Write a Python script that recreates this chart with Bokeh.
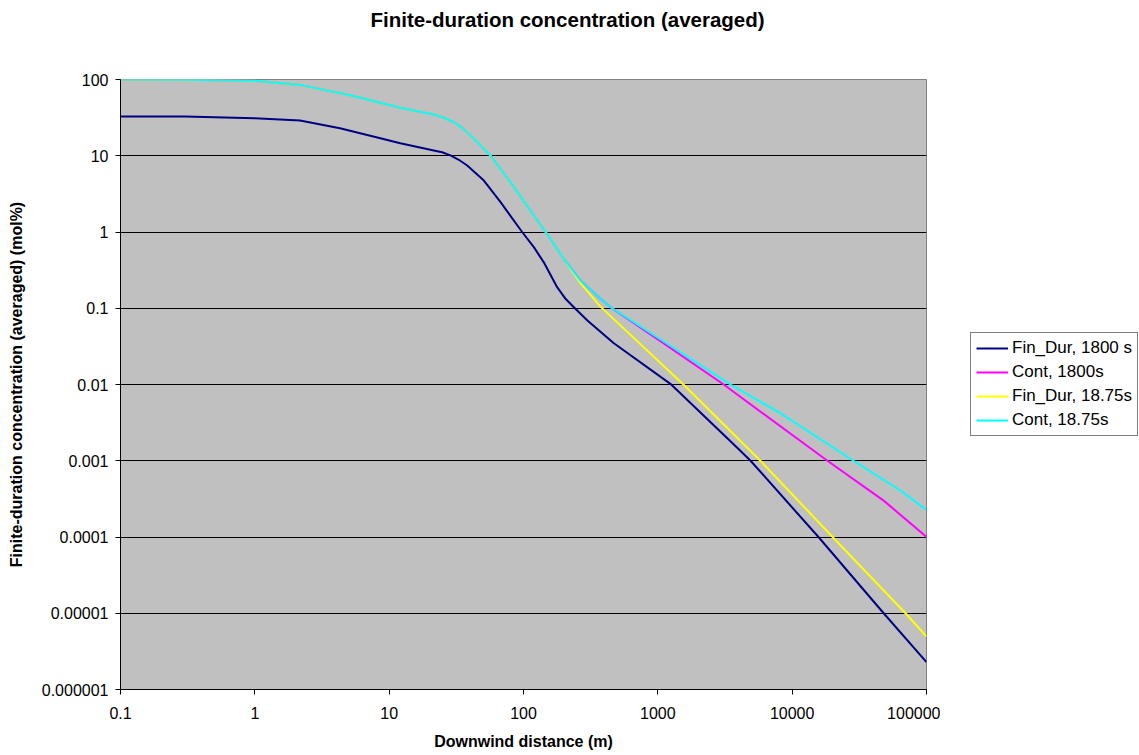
from bokeh.plotting import figure
from bokeh.layouts import row
from bokeh.models import FixedTicker, CustomJSTickFormatter, Legend, LegendItem, Title
from bokeh.embed import file_html
from bokeh.resources import INLINE

# ---------------- data ----------------
x_ticks = [0.1, 1, 10, 100, 1000, 10000, 100000]
x_tick_labels = ["0.1", "1", "10", "100", "1000", "10000", "100000"]
y_ticks = [1e-6, 1e-5, 1e-4, 1e-3, 1e-2, 1e-1, 1, 10, 100]
y_tick_labels = ["0.000001", "0.00001", "0.0001", "0.001", "0.01", "0.1", "1", "10", "100"]

# Fin_Dur, 1800 s
fin1800_x = [0.1, 0.3, 1, 2.17, 4.3, 8.6, 12.1, 21.5, 24.8, 28.6, 33, 38.1, 50.7, 67.5, 97.7, 119.4,
             141.6, 178, 205.6, 237, 299, 468, 1240, 3900, 4900, 15700, 48000, 100000]
fin1800_y = [32.7, 32.6, 31, 29, 23, 17, 14.6, 11.7, 11.1, 10.1, 8.85, 7.45, 4.73, 2.46, 1.0, 0.633,
             0.40, 0.189, 0.133, 0.103, 0.069, 0.035, 0.0102, 0.00148, 0.001, 1e-4, 1e-5, 2.28e-6]

# Cont, 1800s
cont1800_x = [0.1, 0.3, 1, 2.17, 5.15, 12.1, 21.5, 25.5, 30.3, 35, 40.3, 56.9, 80, 146, 199.5, 265, 374,
              445, 1000, 3090, 18300, 48000, 100000]
cont1800_y = [100, 99.5, 96, 85, 62, 42.5, 34.8, 31.5, 27.5, 23.2, 18.5, 10, 4.5, 1.0, 0.445, 0.231, 0.133,
              0.103, 0.039, 0.01, 0.001, 3.0e-4, 1e-4]

# Fin_Dur, 18.75s
fin1875_x = [0.1, 0.3, 1, 2.17, 5.15, 12.1, 21.5, 25.5, 30.3, 35, 40.3, 56.9, 80, 146, 199.5, 265, 374,
             1550, 5800, 20000, 69800, 100000]
fin1875_y = [100, 99.5, 96, 85, 62, 42.5, 34.8, 31.5, 27.5, 23.2, 18.5, 10, 4.5, 1.0, 0.445, 0.215, 0.105,
             0.01, 0.001, 1e-4, 1e-5, 4.96e-6]

# Cont, 18.75s
cont1875_x = [0.1, 0.3, 1, 2.17, 5.15, 12.1, 21.5, 25.5, 30.3, 35, 40.3, 56.9, 80, 146, 199.5, 265, 374,
              445, 1000, 3470, 8180, 28600, 64000, 100000]
cont1875_y = [100, 99.5, 96, 85, 62, 42.5, 34.8, 31.5, 27.5, 23.2, 18.5, 10, 4.5, 1.0, 0.445, 0.231, 0.133,
              0.103, 0.041, 0.01, 0.0042, 0.001, 4.07e-4, 2.27e-4]

series_names = ["Fin_Dur, 1800 s", "Cont, 1800s", "Fin_Dur, 18.75s", "Cont, 18.75s"]
series_colors = ["#000080", "#FF00FF", "#FFFF00", "#00FFFF"]
chart_title = "Finite-duration concentration (averaged)"

FONT = "Liberation Sans"

p = figure(width=940, height=755, x_axis_type="log", y_axis_type="log",
           x_range=(0.1, 100000), y_range=(1e-6, 100),
           output_backend="svg", toolbar_location=None,
           min_border_left=120, min_border_right=14, min_border_top=79, min_border_bottom=66,
           background_fill_color="#C0C0C0", border_fill_color="white",
           outline_line_color="#808080", outline_line_width=1)

# grids
p.xgrid.grid_line_color = None
p.ygrid.grid_line_color = "black"
p.ygrid.grid_line_width = 1
p.ygrid.ticker = FixedTicker(ticks=y_ticks)


def fmt(vals, labs):
    return CustomJSTickFormatter(args=dict(vals=vals, labs=labs), code="""
        let best = 0, d = 1e9;
        for (let i = 0; i < vals.length; i++) {
            const e = Math.abs(Math.log10(vals[i]) - Math.log10(tick));
            if (e < d) { d = e; best = i; }
        }
        return labs[best];
    """)


for ax, ticks, labs in ((p.xaxis[0], x_ticks, x_tick_labels), (p.yaxis[0], y_ticks, y_tick_labels)):
    ax.ticker = FixedTicker(ticks=ticks)
    ax.formatter = fmt(ticks, labs)
    ax.minor_tick_line_color = None
    ax.major_tick_in = 0
    ax.major_tick_out = 5
    ax.major_tick_line_color = "black"
    ax.axis_line_color = "black"
    ax.major_label_text_font = FONT
    ax.major_label_text_font_size = "16px"
    ax.major_label_text_color = "black"
    ax.axis_label_text_font = FONT
    ax.axis_label_text_font_size = "16px"
    ax.axis_label_text_font_style = "bold"
    ax.axis_label_text_color = "black"

p.xaxis.axis_label = "Downwind distance (m)"
p.yaxis.axis_label = "Finite-duration concentration (averaged) (mol%)"
p.xaxis.major_label_standoff = 12
p.xaxis.axis_label_standoff = 11
p.yaxis.major_label_standoff = 7
p.yaxis.axis_label_standoff = 14

series = [(fin1800_x, fin1800_y), (cont1800_x, cont1800_y), (fin1875_x, fin1875_y), (cont1875_x, cont1875_y)]

# lines (cyan drawn over yellow / magenta where they coincide; navy on top)
for i in (1, 2, 3, 0):
    xs, ys = series[i]
    p.line(xs, ys, line_color=series_colors[i], line_width=2, line_join="round")

# spacer (nearest the frame) and real title above it
spacer = Title(text=" ", text_font=FONT, text_font_size="20px", standoff=25)
p.add_layout(spacer, "above")
p.title = Title(text=chart_title, align="left", offset=250, standoff=0,
                vertical_align="bottom", text_font=FONT, text_font_style="bold",
                text_font_size="20.5px", text_color="black")

# ---------------- legend panel (right of the chart) ----------------
lp = figure(width=199, height=755, output_backend="svg", toolbar_location=None,
            x_range=(-2, -1), y_range=(-2, -1), min_border=0,
            x_axis_location=None, y_axis_location=None,
            outline_line_color=None, background_fill_color="white", border_fill_color="white")
lp.grid.visible = False
items = []
for (xs, ys), name, color in zip(series, series_names, series_colors):
    r = lp.line(xs, ys, line_color=color, line_width=2)  # lies outside this panel's view
    items.append(LegendItem(label=name, renderers=[r]))

legend = Legend(items=items, location=(30, 253), margin=0, padding=5, spacing=4,
                glyph_width=32, glyph_height=20, label_height=20, label_standoff=4,
                label_text_font=FONT, label_text_font_size="17px", label_text_color="black",
                border_line_color="black", border_line_width=1,
                background_fill_color="white", background_fill_alpha=1)
lp.add_layout(legend)

layout = row(p, lp, spacing=0)
open("out.html", "w").write(file_html(layout, INLINE))
